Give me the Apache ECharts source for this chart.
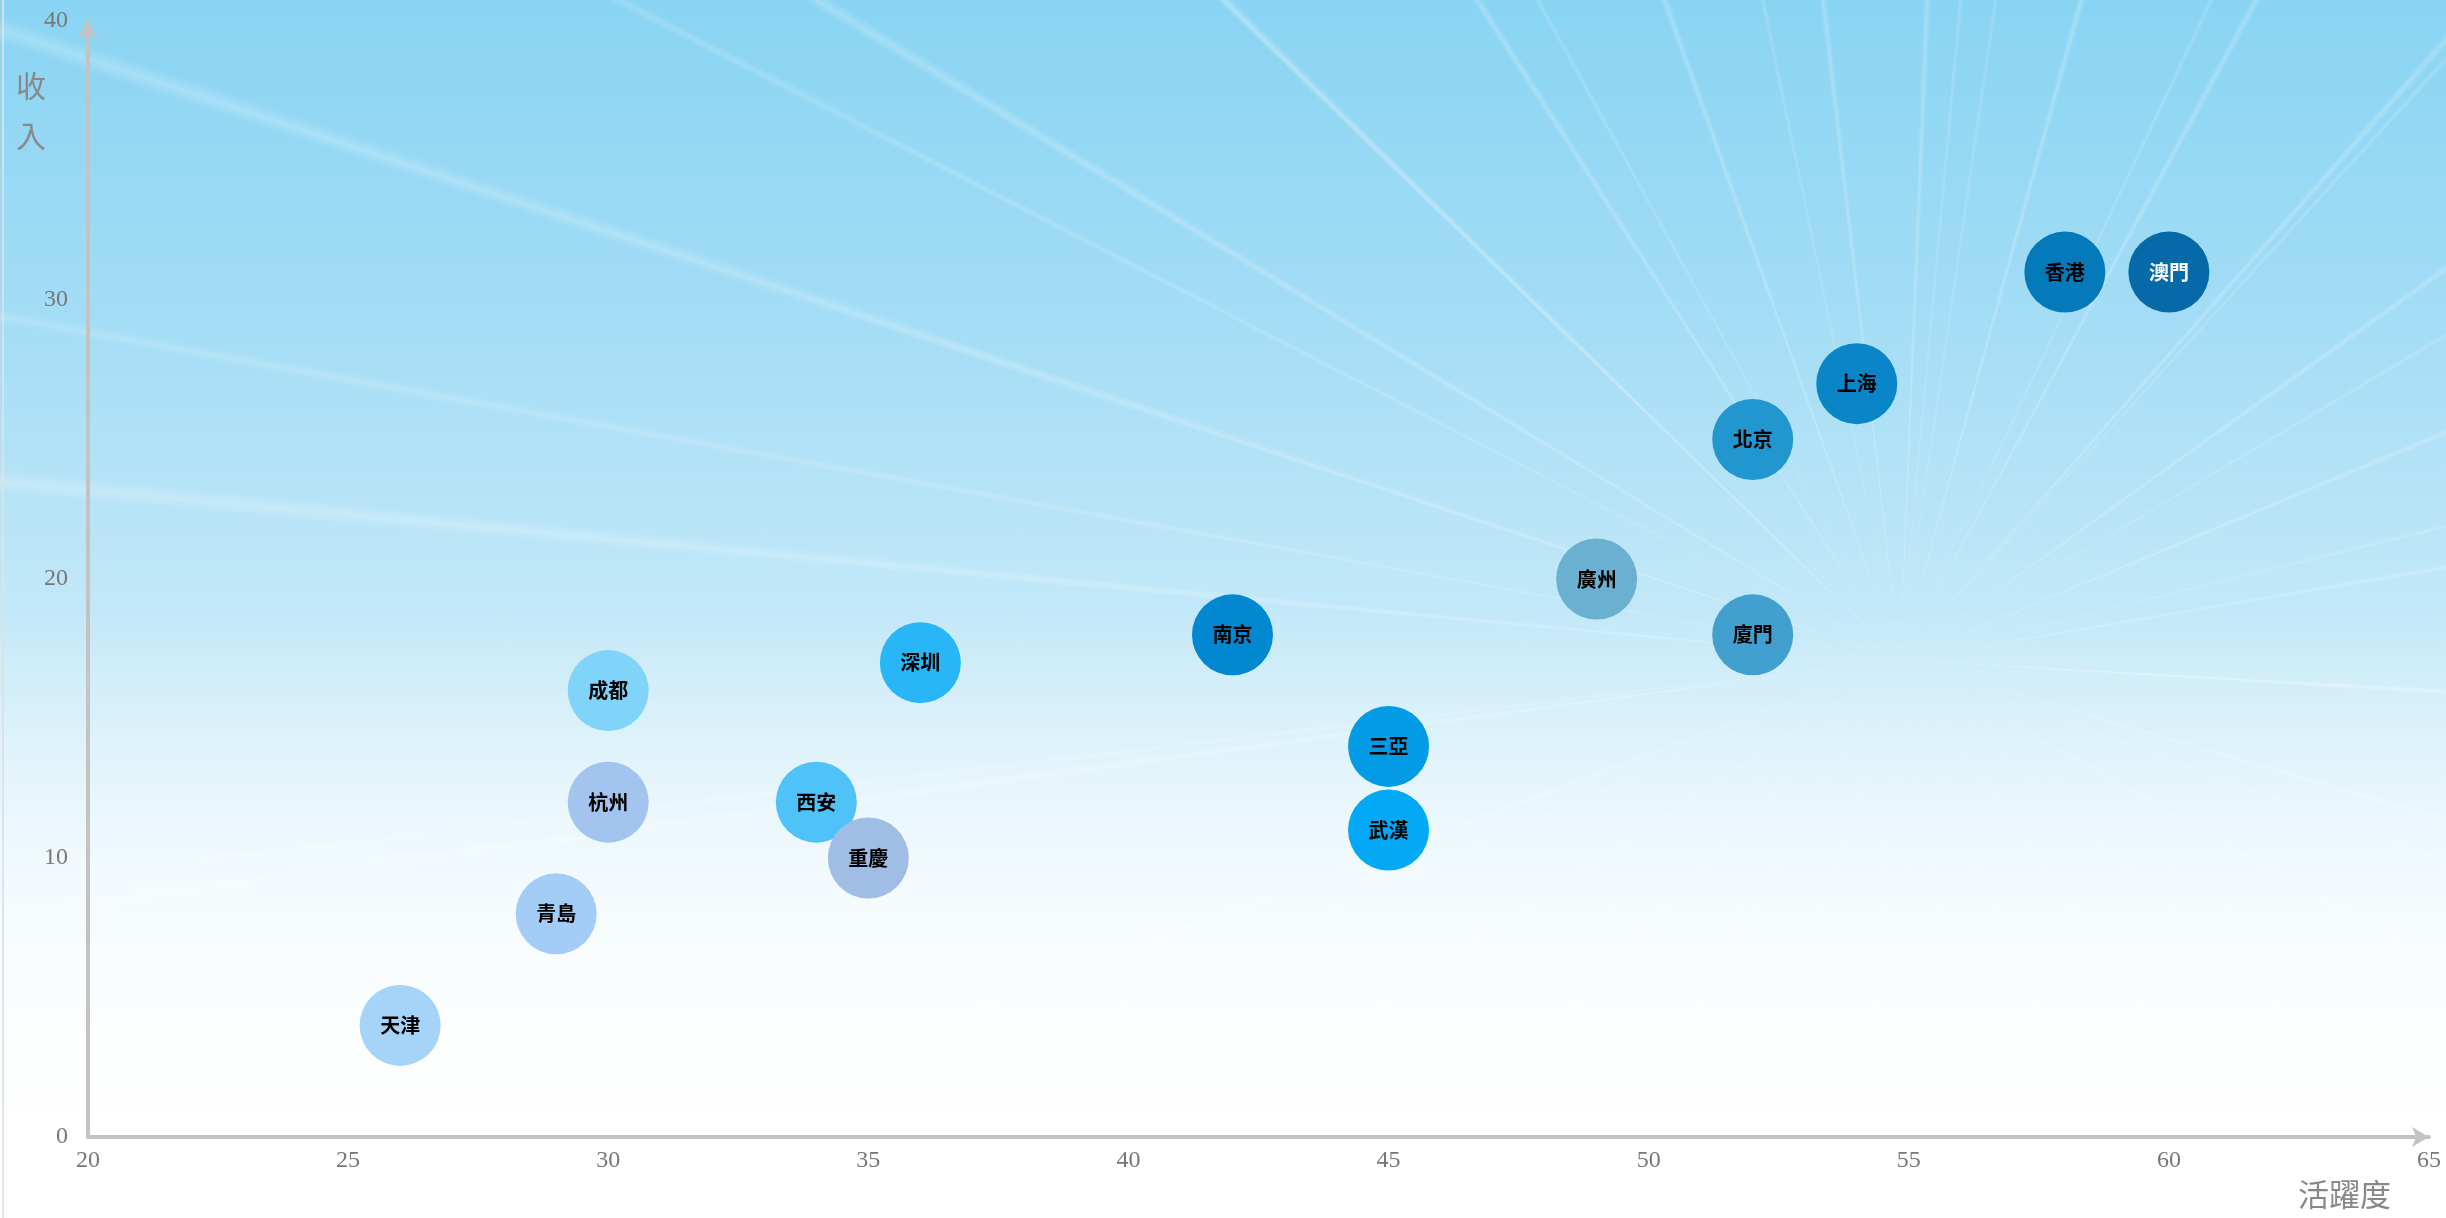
<!DOCTYPE html>
<html>
<head>
<meta charset="utf-8">
<script src="https://cdn.jsdelivr.net/npm/echarts@6/dist/echarts.min.js"></script>
<style>
html,body{margin:0;padding:0;background:#fff;}
#wrap{position:relative;width:2446px;height:1218px;overflow:hidden;
background:
 linear-gradient(180deg, rgba(255,255,255,0) 0%, rgba(255,255,255,0) 50%, rgba(255,255,255,0.7) 78%, rgba(255,255,255,1) 97%),
 repeating-conic-gradient(from 2deg at 1900px 660px, rgba(255,255,255,0) 0deg, rgba(255,255,255,0.22) 0.35deg, rgba(255,255,255,0) 0.75deg, rgba(255,255,255,0) 13deg),
 repeating-conic-gradient(from 8deg at 1900px 660px, rgba(255,255,255,0) 0deg, rgba(255,255,255,0.16) 0.25deg, rgba(255,255,255,0) 0.5deg, rgba(255,255,255,0) 17deg),
 linear-gradient(180deg, #89d4f3 0%, #a2dcf5 25%, #c2e8f8 50%, #e2f4fb 72%, #ffffff 100%);
}
#edge{position:absolute;left:2px;top:0;width:2px;height:1218px;background:rgba(220,225,230,0.9);}
#chart{position:absolute;left:0;top:0;width:2446px;height:1218px;}
</style>
</head>
<body>
<div id="wrap"><div id="edge"></div><div id="chart"></div></div>
<script>
var cities   = ['天津','青島','杭州','成都','西安','重慶','深圳','南京','三亞','武漢','廣州','北京','廈門','上海','香港','澳門'];
var activity = [26, 29, 30, 30, 34, 35, 36, 42, 45, 45, 49, 52, 52, 54, 58, 60];
var income   = [4, 8, 12, 16, 12, 10, 17, 18, 14, 11, 20, 25, 18, 27, 31, 31];
var palette  = ['#a6d4f8','#a3cdf6','#a2c4ee','#81d4f9','#4fc3f7','#a0bde5','#29b6f6','#0288d1',
                '#039be5','#03a9f4','#6ab0d0','#2196cf','#42a0d0','#0a86c8','#057abb','#066aa8'];
var xTicks = {min:20, max:65, step:5};
var yTicks = {min:0, max:40, step:10};

var serif = '"Liberation Serif", "DejaVu Serif", serif';
var cjk = '"Noto Sans CJK TC", "Noto Sans CJK SC", sans-serif';

var data = cities.map(function(c, i){
  var item = { name: c, value: [activity[i], income[i]], itemStyle: { color: palette[i] } };
  if (c === '澳門') item.label = { color: '#ffffff' };
  return item;
});

var chart = echarts.init(document.getElementById('chart'), null, {renderer:'canvas'});
chart.setOption({
  backgroundColor: 'transparent',
  animation: false,
  grid: { left: 88, right: 17, top: 21, bottom: 81 },
  xAxis: {
    type: 'value', min: xTicks.min, max: xTicks.max, interval: xTicks.step,
    name: '活躍度', nameLocation: 'end', nameGap: -38,
    nameTextStyle: { color: '#888', fontFamily: cjk, fontSize: 31, align: 'right', verticalAlign: 'top', padding: [42,0,0,0] },
    axisLine: { show: true, symbol: ['none','arrow'], symbolSize: [15,17], lineStyle: { color: '#c3c3c3', width: 4 } },
    axisTick: { show: false },
    splitLine: { show: false },
    axisLabel: { color: '#777', fontFamily: serif, fontSize: 24, margin: 12 }
  },
  yAxis: {
    type: 'value', min: yTicks.min, max: yTicks.max, interval: yTicks.step,
    name: '收\n入', nameLocation: 'end', nameGap: -40,
    nameTextStyle: { color: '#888', fontFamily: cjk, fontSize: 30, lineHeight: 50, align: 'right', verticalAlign: 'top', padding: [0,42,0,0] },
    axisLine: { show: true, symbol: ['none','arrow'], symbolSize: [15,17], lineStyle: { color: '#c3c3c3', width: 4 } },
    axisTick: { show: false },
    splitLine: { show: false },
    axisLabel: { color: '#777', fontFamily: serif, fontSize: 24, margin: 20 }
  },
  series: [{
    type: 'scatter',
    symbol: 'circle',
    symbolSize: 81,
    data: data,
    itemStyle: { opacity: 1 },
    label: {
      show: true, position: 'inside', formatter: '{b}',
      color: '#000', fontFamily: cjk, fontSize: 20, fontWeight: 'bold'
    },
    emphasis: { disabled: true }
  }]
});
</script>
</body>
</html>
